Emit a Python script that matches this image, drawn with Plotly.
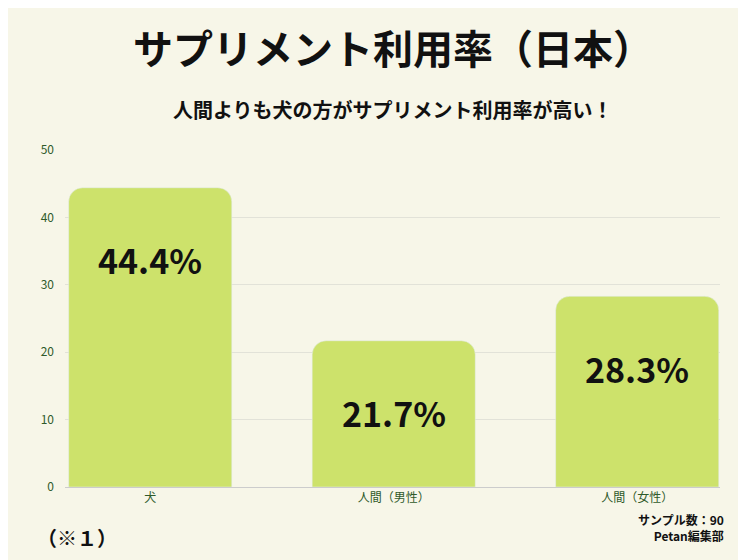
import plotly.graph_objects as go

categories = ["犬", "人間（男性）", "人間（女性）"]
values = [44.4, 21.7, 28.3]
labels = ["44.4%", "21.7%", "28.3%"]

font = "Noto Sans CJK JP"
green = "#2f5a2a"

fig = go.Figure()
fig.add_trace(go.Bar(
    x=categories, y=values,
    marker=dict(color="#cde26b", cornerradius=14),
    hoverinfo="x+y",
))

for c, v, t in zip(categories, values, labels):
    fig.add_annotation(x=c, y=v, text="<b>" + t + "</b>", showarrow=False,
                       yshift=-72, font=dict(family=font, size=34, color="#111111"))

fig.add_annotation(x=0.5, y=1.0, xref="paper", yref="paper", yanchor="bottom", yshift=72,
                   text="<b>サプリメント利用率（日本）</b>", showarrow=False,
                   font=dict(family=font, size=40, color="#111111"))
fig.add_annotation(x=0.5, y=1.0, xref="paper", yref="paper", yanchor="bottom", yshift=24,
                   text="<b>人間よりも犬の方がサプリメント利用率が高い！</b>", showarrow=False,
                   font=dict(family=font, size=20, color="#111111"))
fig.add_annotation(x=0, y=0, xref="paper", yref="paper", xanchor="left", yanchor="top",
                   xshift=-30, yshift=-34, showarrow=False, text="<b>（※１）</b>",
                   font=dict(family=font, size=20, color="#111111"))
fig.add_annotation(x=1, y=0, xref="paper", yref="paper", xanchor="right", yanchor="top",
                   xshift=6, yshift=-22, showarrow=False, align="right",
                   text="<b>サンプル数：90<br>Petan編集部</b>",
                   font=dict(family=font, size=12, color="#111111"))

fig.update_layout(
    width=746, height=560,
    paper_bgcolor="#f7f6e8", plot_bgcolor="#f7f6e8",
    margin=dict(l=57, r=34, t=142, b=81),
    showlegend=False,
    bargap=0.33,
    xaxis=dict(range=[-0.35, 2.34], tickfont=dict(family=font, size=12, color=green),
               showline=True, linecolor="#cccccc", ticks=""),
    yaxis=dict(range=[0, 50], dtick=10, tickfont=dict(family=font, size=12, color=green),
               gridcolor="#e2e2d8", zeroline=False, ticklabelstandoff=10),
)

fig.write_html("out.html")
